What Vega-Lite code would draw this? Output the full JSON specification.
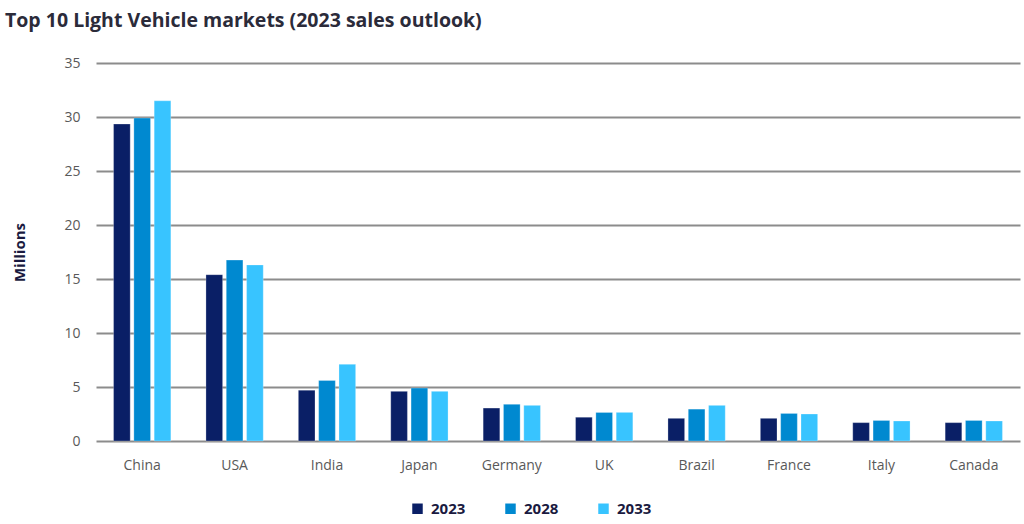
{
  "$schema": "https://vega.github.io/schema/vega-lite/v6.json",
  "width": 924,
  "height": 378,
  "autosize": {"type": "none"},
  "padding": {"left": 96, "top": 63, "right": 4, "bottom": 83},
  "background": "white",
  "title": {
    "text": "Top 10 Light Vehicle markets (2023 sales outlook)",
    "anchor": "start",
    "frame": "group",
    "dx": -91,
    "offset": 25,
    "font": "Open Sans",
    "fontSize": 19.5,
    "fontWeight": "bold",
    "color": "#2b2b3a"
  },
  "config": {
    "view": {"stroke": null},
    "font": "Open Sans"
  },
  "data": {
    "values": [
      {"market": "China", "year": "2023", "sales": 29.35},
      {"market": "China", "year": "2028", "sales": 29.9},
      {"market": "China", "year": "2033", "sales": 31.5},
      {"market": "USA", "year": "2023", "sales": 15.4},
      {"market": "USA", "year": "2028", "sales": 16.75},
      {"market": "USA", "year": "2033", "sales": 16.3},
      {"market": "India", "year": "2023", "sales": 4.7},
      {"market": "India", "year": "2028", "sales": 5.6},
      {"market": "India", "year": "2033", "sales": 7.1},
      {"market": "Japan", "year": "2023", "sales": 4.6},
      {"market": "Japan", "year": "2028", "sales": 4.9},
      {"market": "Japan", "year": "2033", "sales": 4.6},
      {"market": "Germany", "year": "2023", "sales": 3.05},
      {"market": "Germany", "year": "2028", "sales": 3.4},
      {"market": "Germany", "year": "2033", "sales": 3.3},
      {"market": "UK", "year": "2023", "sales": 2.2},
      {"market": "UK", "year": "2028", "sales": 2.65},
      {"market": "UK", "year": "2033", "sales": 2.65},
      {"market": "Brazil", "year": "2023", "sales": 2.1},
      {"market": "Brazil", "year": "2028", "sales": 2.95},
      {"market": "Brazil", "year": "2033", "sales": 3.3},
      {"market": "France", "year": "2023", "sales": 2.1},
      {"market": "France", "year": "2028", "sales": 2.55},
      {"market": "France", "year": "2033", "sales": 2.5},
      {"market": "Italy", "year": "2023", "sales": 1.7},
      {"market": "Italy", "year": "2028", "sales": 1.9},
      {"market": "Italy", "year": "2033", "sales": 1.85},
      {"market": "Canada", "year": "2023", "sales": 1.7},
      {"market": "Canada", "year": "2028", "sales": 1.9},
      {"market": "Canada", "year": "2033", "sales": 1.85}
    ]
  },
  "mark": {"type": "bar", "stroke": "#ffffff", "strokeOpacity": 0.5, "strokeWidth": 0.5},
  "encoding": {
    "x": {
      "field": "market",
      "type": "nominal",
      "sort": null,
      "scale": {"paddingInner": 0.38, "paddingOuter": 0.19},
      "axis": {
        "title": null,
        "labelAngle": 0,
        "labelFontSize": 14,
        "labelColor": "#595959",
        "labelPadding": 17,
        "ticks": false,
        "domain": false
      }
    },
    "xOffset": {
      "field": "year",
      "type": "nominal",
      "scale": {"paddingInner": 0.18}
    },
    "y": {
      "field": "sales",
      "type": "quantitative",
      "scale": {"domain": [0, 35]},
      "axis": {
        "title": "Millions",
        "titleFontSize": 15,
        "titleFontWeight": "bold",
        "titleColor": "#1a1a40",
        "titlePadding": 36,
        "values": [0, 5, 10, 15, 20, 25, 30, 35],
        "labelFontSize": 14,
        "labelColor": "#595959",
        "labelPadding": 16,
        "ticks": false,
        "domain": false,
        "grid": true,
        "gridColor": "#8c8c8c",
        "gridWidth": 2
      }
    },
    "color": {
      "field": "year",
      "type": "nominal",
      "scale": {"domain": ["2023", "2028", "2033"], "range": ["#0a1f66", "#0089d0", "#38c4ff"]},
      "legend": {
        "title": null,
        "orient": "none",
        "direction": "horizontal",
        "legendX": 314,
        "legendY": 438,
        "symbolType": "square",
        "symbolSize": 110,
        "symbolStrokeWidth": 0,
        "labelFontSize": 15,
        "labelFontWeight": "bold",
        "labelColor": "#1a1a40",
        "labelOffset": 6,
        "columnPadding": 37
      }
    }
  }
}
